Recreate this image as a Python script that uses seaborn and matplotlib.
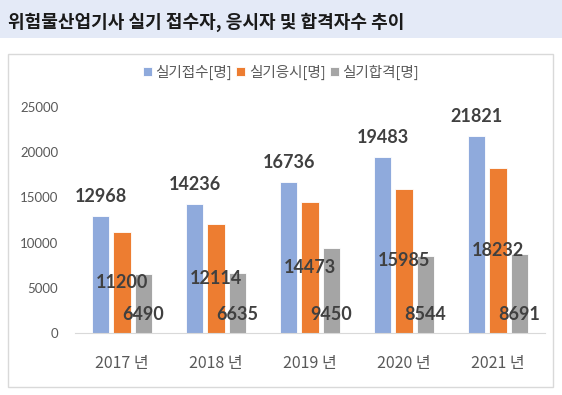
import numpy as np
import pandas as pd
import matplotlib.pyplot as plt
import matplotlib.patches as mpatches
import seaborn as sns

# data
years = ['2017 년', '2018 년', '2019 년', '2020 년', '2021 년']
series = ['실기접수[명]', '실기응시[명]', '실기합격[명]']
applied = [12968, 14236, 16736, 19483, 21821]
tested = [11200, 12114, 14473, 15985, 18232]
passed = [6490, 6635, 9450, 8544, 8691]
colors = ['#8FAADC', '#ED7D31', '#A5A5A5']


def main():
    df = pd.DataFrame({
        'year': years * 3,
        'series': [series[0]] * 5 + [series[1]] * 5 + [series[2]] * 5,
        'value': applied + tested + passed,
    })

    sns.set_style('white')
    plt.rcParams['font.family'] = ['Noto Sans CJK KR', 'DejaVu Sans']

    fig = plt.figure(figsize=(5.62, 3.95), dpi=100)

    # title band + chart frame
    fig.patches.append(mpatches.Rectangle((0, 0.904), 1, 0.096, transform=fig.transFigure,
                                          facecolor='#E4EAF7', edgecolor='none', zorder=-1))
    fig.patches.append(mpatches.Rectangle((0.0142, 0.0203), 0.970, 0.843, transform=fig.transFigure,
                                          facecolor='none', edgecolor='#D9D9D9', lw=1, zorder=-1))
    fig.text(0.014, 0.944, '위험물산업기사 실기 접수자, 응시자 및 합격자수 추이',
             fontsize=13, fontweight='bold', color='#1a1a1a', va='center', ha='left')

    ax = fig.add_axes([0.1335, 0.157, 0.8363, 0.572])
    ax.patch.set_alpha(0)
    sns.barplot(data=df, x='year', y='value', hue='series', palette=colors, saturation=1,
                width=0.68, gap=0.18, ax=ax, edgecolor='white', linewidth=0.6)

    ax.set_ylim(0, 25000)
    ax.set_yticks(np.arange(0, 25001, 5000))
    ax.set_xlabel('')
    ax.set_ylabel('')
    for s in ['top', 'right', 'left']:
        ax.spines[s].set_visible(False)
    ax.spines['bottom'].set_color('#D9D9D9')
    ax.tick_params(axis='both', length=0)
    ax.tick_params(axis='y', labelsize=9.5, labelcolor='#595959', pad=12)
    ax.tick_params(axis='x', labelsize=11.5, labelcolor='#595959', pad=16)
    for lab in ax.get_yticklabels():
        lab.set_family(['Lato', 'Noto Sans CJK KR'])

    lab_font = dict(fontsize=13, fontweight='bold', color='#404040', family=['Lato', 'DejaVu Sans'])
    c_app, c_test, c_pass = ax.containers[:3]
    ax.bar_label(c_app, labels=[str(v) for v in applied], padding=8, clip_on=False, **lab_font)
    ax.bar_label(c_test, labels=[str(v) for v in tested], label_type='center', **lab_font)
    for bar, v in zip(c_pass, passed):
        ax.annotate(str(v), xy=(bar.get_x() + bar.get_width() / 2, 0),
                    xytext=(0, 13), textcoords='offset points',
                    ha='center', va='center', **lab_font)

    ax.legend(loc='center', bbox_to_anchor=(0.5, 0.818), bbox_transform=fig.transFigure,
              ncol=3, frameon=False, fontsize=10.5, handlelength=0.6, handleheight=0.6,
              handletextpad=0.25, columnspacing=0.3, labelcolor='#595959')

    fig.savefig('out.png', dpi=100)


if __name__ == "__main__":
    main()
